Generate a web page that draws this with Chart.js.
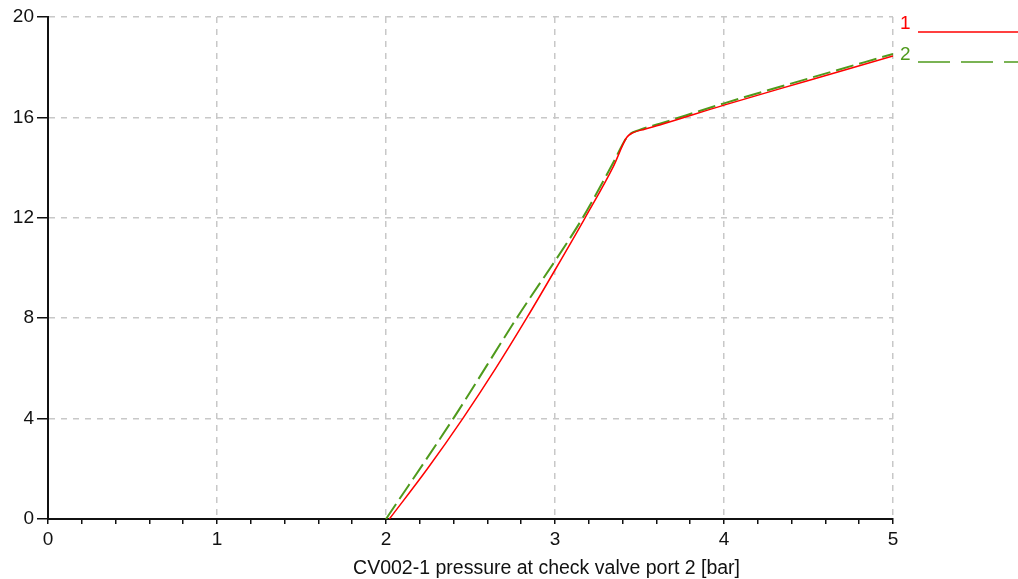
<!DOCTYPE html>
<html>
<head>
<meta charset="utf-8">
<script src="https://cdn.jsdelivr.net/npm/chart.js@4/dist/chart.umd.min.js"></script>
<style>
  html, body { margin: 0; padding: 0; background: #ffffff; }
  #wrap { width: 1018px; height: 579px; position: relative; }
</style>
</head>
<body>
<div id="wrap"><canvas id="chart" width="1018" height="579"></canvas></div>
<script>
// Check valve characteristic: pressure at port 2 [bar] vs. result, two runs
const pressureRun1 = [2.02, 2.245, 2.454, 2.649, 2.832, 3.007, 3.178, 3.345, 3.424, 3.46, 3.53, 3.62, 4.0, 4.5, 5.0];
const valueRun1    = [0,    2,     4,     6,     8,     10,    12,    14.04, 15.2,  15.38, 15.53, 15.7, 16.49, 17.47, 18.45];

const pressureRun2 = [2.0, 2.398, 2.773, 3.164, 3.345, 3.43,  3.5,   3.62, 4.0,   4.5,   5.0];
const valueRun2    = [0,   4,     8,     12,    14.2,  15.25, 15.5,  15.75, 16.56, 17.55, 18.53];

const runLabels = ['1', '2'];
const xTickLabels = ['0', '1', '2', '3', '4', '5'];
const yTickLabels = ['0', '4', '8', '12', '16', '20'];
const xTitle = 'CV002-1 pressure at check valve port 2 [bar]';

const RED = '#ff0000';
const GREEN = '#4f9a1c';
const FONT = "'Liberation Sans', Arial, sans-serif";
const FONT_SIZE = 19;

const toPoints = (xs, ys) => xs.map((x, i) => ({ x: x, y: ys[i] }));
const isWhole = v => Math.abs(v - Math.round(v)) < 1e-6;

// Run labels with their line samples at the right of the plot, plus the x-axis caption
const runKey = {
  id: 'runKey',
  afterDraw(chart) {
    const ctx = chart.ctx;
    const area = chart.chartArea;
    const x0 = area.right + 7;
    const rows = [
      { text: runLabels[0], color: RED, y: 24, lineY: 32, dash: [], width: 1.5 },
      { text: runLabels[1], color: GREEN, y: 55, lineY: 62, dash: [32, 11], width: 1.5 }
    ];
    ctx.save();
    ctx.font = FONT_SIZE + 'px ' + FONT;
    ctx.textBaseline = 'middle';
    ctx.textAlign = 'left';
    rows.forEach(r => {
      ctx.fillStyle = r.color;
      ctx.fillText(r.text, x0, r.y);
      ctx.strokeStyle = r.color;
      ctx.lineWidth = r.width;
      ctx.setLineDash(r.dash);
      ctx.beginPath();
      ctx.moveTo(x0 + 18, r.lineY);
      ctx.lineTo(chart.width, r.lineY);
      ctx.stroke();
    });

    // axis caption, sitting right of the plot centre
    ctx.font = '19.5px ' + FONT;
    ctx.fillStyle = '#111';
    ctx.textAlign = 'center';
    ctx.fillText(xTitle, area.left + (area.right - area.left) * 0.59, area.bottom + 50);
    ctx.restore();
  }
};

new Chart(document.getElementById('chart'), {
  type: 'line',
  data: {
    datasets: [
      {
        label: runLabels[0],
        data: toPoints(pressureRun1, valueRun1),
        borderColor: RED,
        borderWidth: 1.5,
        pointRadius: 0,
        cubicInterpolationMode: 'monotone',
        fill: false
      },
      {
        label: runLabels[1],
        data: toPoints(pressureRun2, valueRun2),
        borderColor: GREEN,
        borderWidth: 2,
        borderDash: [18, 6],
        pointRadius: 0,
        cubicInterpolationMode: 'monotone',
        fill: false
      }
    ]
  },
  options: {
    responsive: false,
    animation: false,
    devicePixelRatio: 1,
    layout: { padding: { left: 0, top: 17, right: 125, bottom: 0 } },
    plugins: {
      legend: { display: false },
      tooltip: { enabled: false }
    },
    scales: {
      x: {
        type: 'linear',
        min: 0,
        max: 5,
        afterFit(scale) { scale.height = 60; },
        afterBuildTicks(scale) {
          const t = [];
          for (let i = 0; i <= 25; i++) t.push({ value: i * 0.2 });
          scale.ticks = t;
        },
        ticks: {
          autoSkip: false,
          maxRotation: 0,
          padding: 4,
          color: '#111',
          font: { family: FONT, size: FONT_SIZE },
          callback: v => isWhole(v) ? xTickLabels[Math.round(v)] : ''
        },
        grid: {
          color: ctx => (ctx.tick && isWhole(ctx.tick.value) && ctx.tick.value > 0) ? '#c8c8c8' : 'rgba(0,0,0,0)',
          lineWidth: 1.5,
          drawTicks: true,
          tickLength: 5,
          tickColor: '#111',
          tickWidth: 1.5
        },
        border: { display: true, color: '#111', width: 2, dash: [6, 6] },
        title: { display: false }
      },
      y: {
        type: 'linear',
        min: 0,
        max: 20,
        afterFit(scale) { scale.width = 48; },
        afterBuildTicks(scale) {
          scale.ticks = yTickLabels.map(s => ({ value: Number(s) }));
        },
        ticks: {
          autoSkip: false,
          padding: 3,
          color: '#111',
          font: { family: FONT, size: FONT_SIZE },
          callback: v => yTickLabels[yTickLabels.indexOf(String(v))]
        },
        grid: {
          color: ctx => (ctx.tick && ctx.tick.value > 0) ? '#c8c8c8' : 'rgba(0,0,0,0)',
          lineWidth: 1.5,
          drawTicks: true,
          tickLength: 11,
          tickColor: '#111',
          tickWidth: 1.5
        },
        border: { display: true, color: '#111', width: 2, dash: [6, 6] }
      }
    }
  },
  plugins: [runKey]
});
</script>
</body>
</html>
